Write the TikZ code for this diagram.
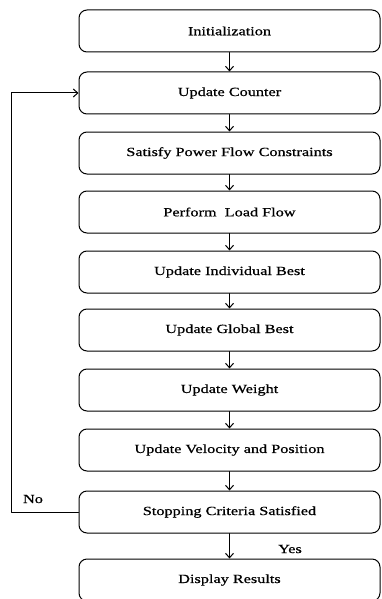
\documentclass[tikz,border=0pt]{standalone}
\usepackage{fontspec}
\newfontfamily\flowfont[FakeStretch=1.3,FakeBold=0.7]{Liberation Serif}
\usetikzlibrary{arrows.meta}
\usetikzlibrary{positioning}
\tikzset{
  flowbox/.style={draw,rounded corners=8pt,line width=1pt,minimum width=301pt,minimum height=42pt,inner sep=0pt,font=\flowfont\fontsize{12.5}{14}\selectfont},
  flowarrow/.style={line width=1pt,-{Straight Barb[length=4.5pt,width=8pt]}},
  flowlabel/.style={font=\flowfont\fontsize{12.5}{14}\selectfont}
}
\begin{document}
\begin{tikzpicture}[line cap=round,line join=round,x=1pt,y=-1pt]
\useasboundingbox (0,0) rectangle (381,599);
\node[flowbox] (init) at (229.5,31) {Initialization};
\node[flowbox] (counter) at (229.5,93) {Update Counter};
\node[flowbox] (constr) at (229.5,153) {Satisfy Power Flow Constraints};
\node[flowbox] (loadflow) at (229.5,212) {Perform\ \ Load Flow};
\node[flowbox] (pbest) at (229.5,272) {Update Individual Best};
\node[flowbox] (gbest) at (229.5,330) {Update Global Best};
\node[flowbox] (weight) at (229.5,390) {Update Weight};
\node[flowbox] (velpos) at (229.5,450) {Update Velocity and Position};
\node[flowbox] (stop) at (229.5,512) {Stopping Criteria Satisfied};
\node[flowbox] (result) at (229.5,580) {Display Results};
\coordinate (loopbot) at (11,512);
\coordinate (looptop) at (11,93);
\draw[flowarrow] (init) -- (counter);
\draw[flowarrow] (counter) -- (constr);
\draw[flowarrow] (constr) -- (loadflow);
\draw[flowarrow] (loadflow) -- (pbest);
\draw[flowarrow] (pbest) -- (gbest);
\draw[flowarrow] (gbest) -- (weight);
\draw[flowarrow] (weight) -- (velpos);
\draw[flowarrow] (velpos) -- (stop);
\draw[flowarrow] (stop) -- (result);
\draw[flowarrow] (stop.west) -- (loopbot) -- (looptop) -- (counter.west);
\node[flowlabel] (no) at (33,499) {No};
\node[flowlabel] (yes) at (290,549) {Yes};
\end{tikzpicture}
\end{document}
